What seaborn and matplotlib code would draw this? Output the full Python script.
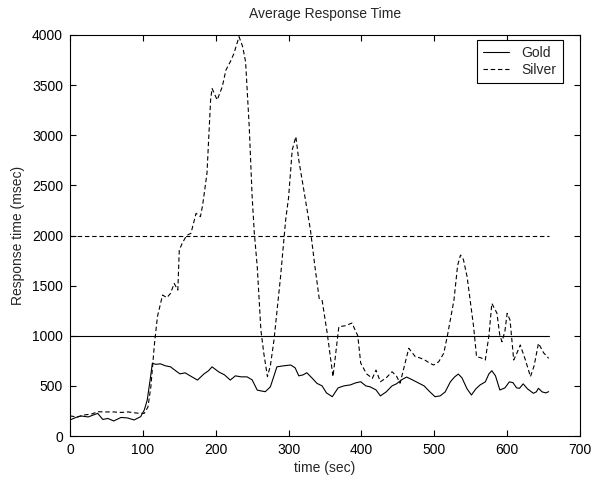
import matplotlib
matplotlib.use("Agg")
import matplotlib.pyplot as plt
import seaborn as sns
import pandas as pd

# values
gold_t = [0, 8, 15, 25, 38, 45, 52, 60, 70, 79, 88, 97, 102, 106, 110, 113, 118, 124,
          131, 138, 147, 151, 158, 165, 175, 184, 190, 195, 204, 212, 220, 227, 235,
          243, 250, 257, 262, 268, 275, 284, 293, 303, 309, 314, 320, 325, 332, 339,
          346, 352, 360, 368, 376, 385, 392, 399, 406, 412, 420, 426, 434, 442, 448,
          455, 462, 470, 478, 486, 494, 501, 508, 515, 522, 528, 533, 538, 545, 551,
          557, 563, 570, 575, 579, 584, 590, 597, 603, 608, 613, 617, 622, 628, 636,
          640, 643, 648, 653, 657]
gold_v = [160, 185, 200, 190, 226, 165, 175, 150, 185, 180, 160, 193, 260, 359, 560, 725,
          715, 720, 700, 690, 640, 620, 630, 600, 558, 620, 650, 690, 640, 610, 558, 600,
          590, 590, 560, 458, 450, 442, 490, 690, 700, 708, 680, 600, 610, 631, 580, 525,
          500, 430, 392, 480, 500, 510, 530, 541, 500, 490, 460, 400, 440, 500, 520, 560,
          588, 560, 530, 500, 440, 392, 400, 440, 540, 590, 618, 580, 470, 409, 470, 510,
          540, 620, 651, 600, 459, 480, 540, 532, 480, 476, 520, 470, 426, 440, 476, 440,
          430, 442]

silver_t = [0, 10, 20, 30, 38, 50, 60, 70, 80, 90, 97, 102, 107, 111, 116, 120, 127,
            133, 138, 143, 148, 150, 154, 160, 166, 173, 179, 182, 188, 193, 195, 202,
            209, 214, 220, 225, 232, 237, 241, 246, 250, 253, 257, 262, 266, 271, 275,
            280, 289, 296, 300, 305, 310, 314, 321, 330, 336, 342, 346, 353, 361, 369,
            378, 387, 395, 399, 407, 415, 420, 426, 434, 442, 448, 453, 459, 465, 474,
            480, 487, 493, 499, 506, 513, 518, 527, 532, 536, 540, 545, 554, 558, 564,
            570, 575, 579, 586, 590, 593, 597, 600, 604, 609, 613, 618, 625, 632, 637,
            643, 650, 657]
silver_v = [200, 190, 210, 220, 242, 240, 240, 235, 240, 230, 226, 226, 290, 492, 925,
            1190, 1406, 1380, 1423, 1522, 1456, 1855, 1922, 2000, 2022, 2221, 2188, 2300,
            2620, 3352, 3467, 3352, 3484, 3650, 3733, 3815, 3983, 3884, 3733, 3086, 2388,
            2022, 1689, 1057, 825, 592, 700, 958, 1589, 2155, 2378, 2853, 2986, 2753,
            2450, 2055, 1700, 1373, 1356, 1027, 592, 1090, 1100, 1127, 1000, 728, 620,
            575, 658, 541, 580, 641, 600, 526, 700, 875, 791, 780, 758, 730, 708, 740,
            825, 1000, 1356, 1700, 1805, 1760, 1590, 1090, 791, 780, 758, 1000, 1323,
            1225, 1000, 940, 1050, 1223, 1156, 758, 820, 908, 760, 592, 700, 925, 830,
            775]

ref_levels = [1000, 2000]
ref_styles = ["-", "--"]

df = pd.concat([
    pd.DataFrame({"t": gold_t, "v": gold_v, "class": "Gold"}),
    pd.DataFrame({"t": silver_t, "v": silver_v, "class": "Silver"}),
])

DASH = (4, 2.5)
LW = 0.8
FS = 10

sns.set_style("ticks")
plt.rcParams["font.family"] = ["Liberation Sans", "DejaVu Sans"]
plt.rcParams["font.size"] = FS

fig = plt.figure(figsize=(5.92, 4.8), dpi=100)
# axes box: x 70..580 px, y 35..436 px
ax = fig.add_axes([70 / 592, 44 / 480, 510 / 592, 401 / 480])

sns.lineplot(data=df, x="t", y="v", hue="class", style="class",
             palette=["black", "black"], dashes={"Gold": "", "Silver": DASH},
             linewidth=LW, ax=ax, estimator=None, sort=False)

for lvl, ls in zip(ref_levels, ref_styles):
    line, = ax.plot([0, 657], [lvl, lvl], color="black", linewidth=LW)
    if ls == "--":
        line.set_dashes(DASH)

ax.set_xlim(0, 700)
ax.set_ylim(0, 4000)
ax.set_xticks(range(0, 701, 100))
ax.set_yticks(range(0, 4001, 500))
ax.tick_params(direction="in", top=True, right=True, length=4, width=0.8,
               labelsize=FS, colors="black", pad=5)
for s in ax.spines.values():
    s.set_visible(True)
    s.set_linewidth(0.8)
    s.set_color("black")

ax.set_title("Average Response Time", fontsize=FS, pad=12)
ax.set_xlabel("time (sec)", fontsize=FS, labelpad=3)
ax.set_ylabel("Response time (msec)", fontsize=FS, labelpad=5)

leg = ax.legend(loc="upper right", bbox_to_anchor=(493 / 510, 396 / 401),
                borderaxespad=0, frameon=True, fancybox=False, fontsize=FS,
                handlelength=1.9, handletextpad=0.9, borderpad=0.45,
                labelspacing=0.2)
leg.get_frame().set_edgecolor("black")
leg.get_frame().set_linewidth(0.8)
leg.get_frame().set_alpha(1)

fig.savefig("out.png", dpi=100)
